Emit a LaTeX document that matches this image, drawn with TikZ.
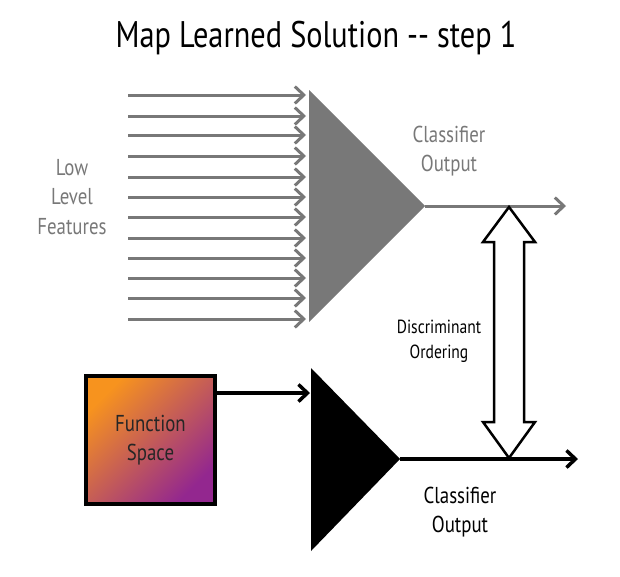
\documentclass[tikz,border=0pt]{standalone}
\usepackage{fontspec}
\setmainfont{PT Sans}[FakeStretch=0.82]
\usetikzlibrary{arrows.meta}
\definecolor{fgray}{HTML}{787878}
\definecolor{forange}{HTML}{F7931E}
\definecolor{fpurple}{HTML}{93278F}
\tikzset{
  gline/.style={draw=fgray, line width=3pt, -{Straight Barb[length=9pt,width=17pt,line width=3pt]}},
  bline/.style={draw=black, line width=3.5pt, -{Straight Barb[length=9pt,width=17pt,line width=3.5pt]}},
  lbl/.style={align=center, font=\fontsize{23}{29.5}\selectfont, inner sep=0pt},
}
\begin{document}
\begin{tikzpicture}[x=1pt,y=-1pt]
\useasboundingbox (0,0) rectangle (620,576);
% title
\node[inner sep=0pt, font=\fontsize{37}{40}\selectfont] (title) at (316,38) {Map Learned Solution -{}- step 1};
% gray triangle
\coordinate (gt) at (309,90);
\coordinate (gb) at (309,322);
\coordinate (gtip) at (425,206);
\fill[fgray] (gt) -- (gtip) -- (gb) -- cycle;
% inputs
\foreach \y [count=\i] in {95,116,135,156,177,197,217,238,258,278,298,319} {
  \coordinate (in\i) at (128,\y);
  \coordinate (ie\i) at (306,\y);
  \draw[gline] (in\i) -- (ie\i);
}
\coordinate (gout) at (566,206);
\draw[gline] (gtip) -- (gout);
\node[lbl, text=fgray] (lowf) at (72,197) {Low\\Level\\Features};
\node[lbl, text=fgray] (cout1) at (449,151) {Classifier\\Output};
% black triangle
\coordinate (bt) at (311,368);
\coordinate (bb) at (311,551);
\coordinate (btip) at (400,459);
\fill[black] (bt) -- (btip) -- (bb) -- cycle;
% function space box
\shade[shading=axis, top color=forange, bottom color=fpurple, shading angle=45] (86,375) rectangle (215,503);
\node[draw=black, line width=4pt, minimum width=129pt, minimum height=128pt, inner sep=0pt, lbl, text=black!85] (fs) at (150.5,440) {Function\\Space};
\coordinate (bin) at (310,393);
\draw[bline] (fs.east |- bin) -- (bin);
\coordinate (bout) at (578,459);
\draw[bline] (btip) -- (bout);
\node[lbl] (cout2) at (460,512) {Classifier\\Output};
% double arrow
\coordinate (dt) at (509,207);
\coordinate (db) at (509,458);
\draw[line width=2.5pt, fill=white, line join=miter]
  (dt) -- (535,242) -- (524,242) -- (524,422) -- (535,422) -- (db) -- (483,422) -- (494,422) -- (494,242) -- (483,242) -- cycle;
\node[align=center, inner sep=0pt, font=\fontsize{19}{25}\selectfont] (disc) at (439,341) {Discriminant\\Ordering};
\end{tikzpicture}
\end{document}
